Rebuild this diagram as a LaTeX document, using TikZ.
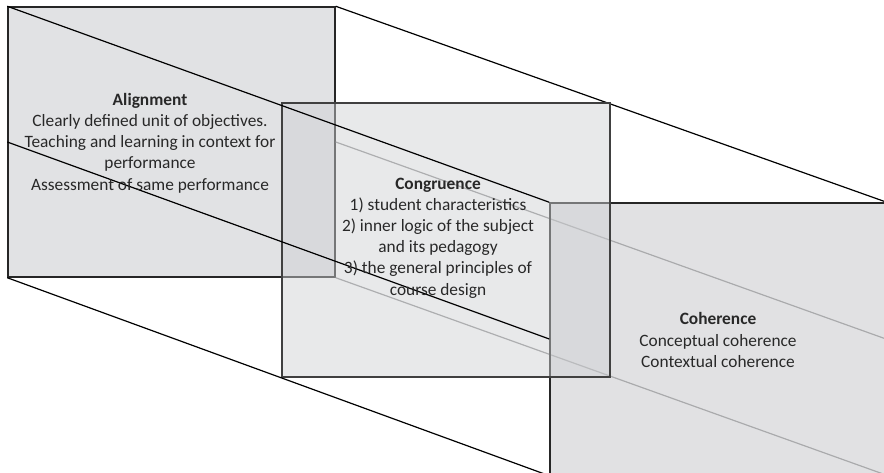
\documentclass[tikz,border=0pt]{standalone}
\usepackage{fontspec}
\setmainfont{Carlito}
\definecolor{panelA}{RGB}{225,226,228}
\definecolor{panelB}{RGB}{206,208,211}
\definecolor{panelC}{RGB}{195,196,200}
\definecolor{txt}{RGB}{40,40,40}
\definecolor{backline}{RGB}{145,145,145}
\tikzset{
  panel/.style={rectangle, draw=black!85, line width=1.1pt, inner sep=0pt},
  frontline/.style={black, line width=0.9pt},
  hiddenline/.style={backline, line width=0.9pt},
  boxtext/.style={align=center, text=txt, font=\fontsize{13}{15.9}\selectfont}
}
\begin{document}
\begin{tikzpicture}[x=0.75pt, y=-0.75pt]
  \useasboundingbox (0,0) rectangle (884,473);

  % Alignment box (at the back)
  \node[panel, fill=panelA, minimum width=245.25pt, minimum height=202.5pt] (align) at (171.5,142) {};

  % lines from the right corners run behind the other boxes
  \coordinate (cohE) at (886,339);
  \coordinate (cohSE) at (886,475);
  \draw[hiddenline] (align.east) -- (cohE);
  \draw[hiddenline] (align.south east) -- (cohSE);

  % Coherence box
  \node[panel, fill=panelC, fill opacity=0.5, minimum width=252pt, minimum height=204pt] (coher) at (718,339) {};
  \draw[frontline] (align.north east) -- (coher.north east);

  % Congruence box (in front)
  \node[panel, draw=black!75, fill=panelB, fill opacity=0.47, minimum width=246pt, minimum height=205.5pt] (congr) at (446,240) {};

  % lines from the left corners lie on top
  \draw[frontline] (align.north west) -- (coher.north west);
  \draw[frontline] (align.west) -- (coher.west);
  \draw[frontline] (align.south west) -- (coher.south west);

  % Labels
  \node[boxtext] (alignText) at (150,143) {\textbf{Alignment}\\Clearly defined unit of objectives.\\Teaching and learning in context for\\performance\\Assessment of same performance};
  \node[boxtext] (congrText) at (438,238) {\textbf{Congruence}\\1) student characteristics\\2) inner logic of the subject\\and its pedagogy\\3) the general principles of\\course design};
  \node[boxtext] (coherText) at (718,340) {\textbf{Coherence}\\Conceptual coherence\\Contextual coherence};
\end{tikzpicture}
\end{document}
